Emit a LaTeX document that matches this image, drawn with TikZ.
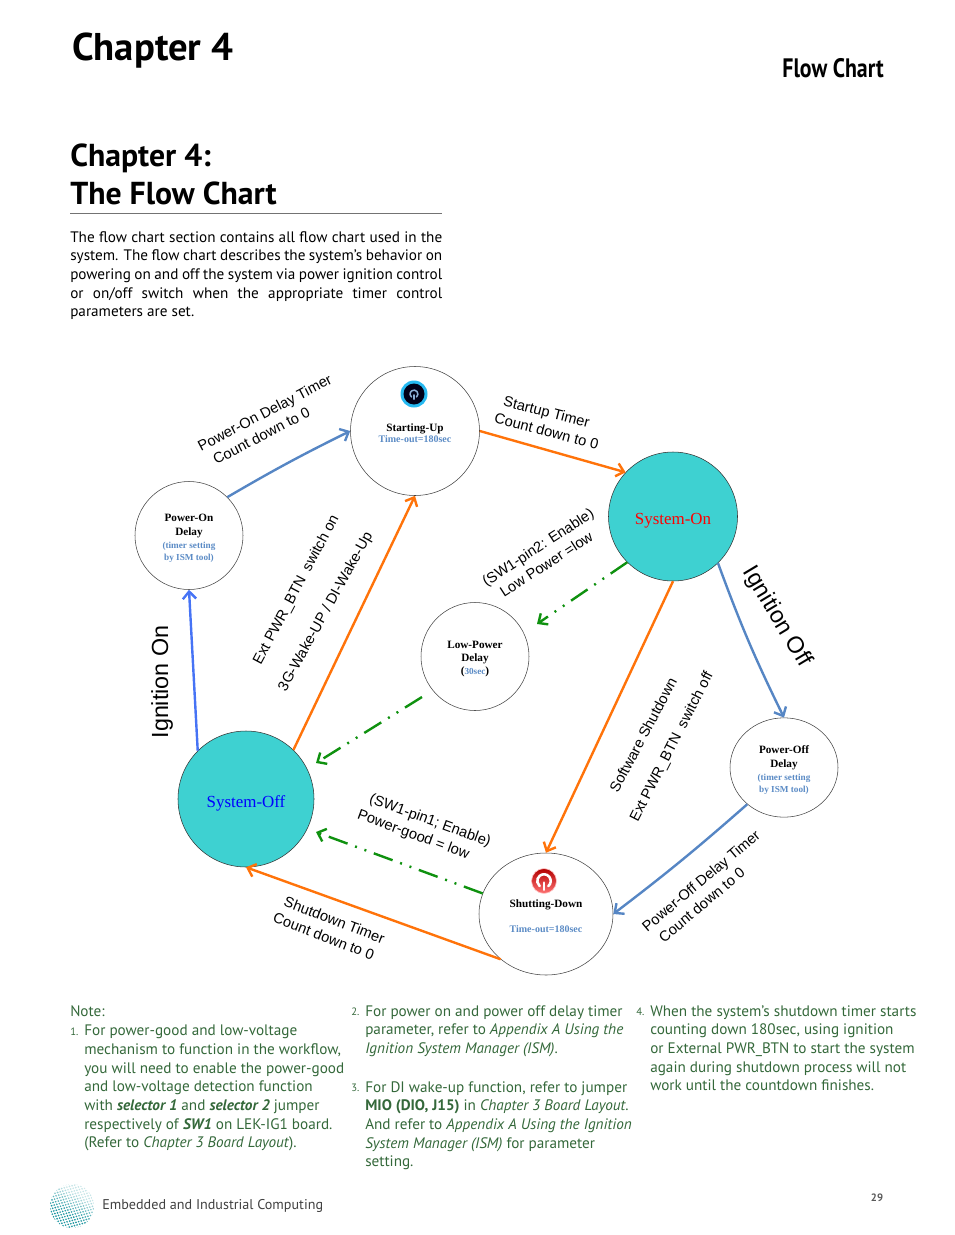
\documentclass[tikz,border=0pt]{standalone}
\usepackage{fontspec}
\setmainfont{PT Sans}
\newfontfamily\arialfont{Liberation Sans}
\newfontfamily\timesfont{Liberation Serif}
\usetikzlibrary{positioning,calc,shapes.geometric,arrows.meta}
\definecolor{stateteal}{RGB}{62,209,209}
\definecolor{subblue}{RGB}{91,139,197}
\definecolor{linkblue}{RGB}{86,134,196}
\definecolor{brightblue}{RGB}{70,115,245}
\definecolor{linkorange}{RGB}{255,115,10}
\definecolor{linkgreen}{RGB}{15,145,15}
\definecolor{notegreen}{RGB}{52,104,58}
\definecolor{globeteal}{RGB}{30,150,160}
\newcommand{\fsz}[2]{\fontsize{#1}{#2}\selectfont}
\newcommand{\sub}[1]{\textcolor{subblue}{\fsz{6.9}{8.6}\bfseries #1}}
\newcommand{\lift}{\rule{0pt}{9.5pt}}
\newcommand{\liftbig}{\rule{0pt}{15pt}}
\tikzset{
    flow/.style={
        x=0.75pt, y=-0.75pt,
        % Stati
        statebig/.style={draw=black!75, circle, inner sep=0pt, align=center,
                         minimum size=96.75pt, font=\timesfont\fsz{8.4}{9.2}\bfseries},
        statesmall/.style={draw=black!75, circle, inner sep=0pt, align=center,
                           minimum size=81pt, font=\timesfont\fsz{8.4}{10.8}\bfseries},
        stateoval/.style={draw=black!75, ellipse, inner sep=0pt, align=center,
                          font=\timesfont\fsz{8.4}{10.8}\bfseries},
        statefill/.style={draw=black!80, circle, fill=stateteal, inner sep=0pt,
                          font=\timesfont\fsz{12.7}{14}},
        % Frecce
        link/.style={-{Straight Barb[length=5.5pt,width=10pt]}, line width=1.8pt},
        linkdash/.style={link, linkgreen,
                         dash pattern=on 15pt off 6pt on 1.5pt off 6pt on 1.5pt off 6pt},
        % Testi
        tag/.style={font=\arialfont\fsz{11}{14.2}, align=left, inner sep=0pt},
        tagbig/.style={font=\arialfont\fsz{17.5}{20}, inner sep=0pt},
        note/.style={anchor=north west, inner sep=0pt, align=left, text=notegreen,
                     font=\fsz{11.4}{14}},
        notenum/.style={anchor=north west, inner sep=0pt, text=notegreen, font=\fsz{8}{14}}
    }
}
\newcommand{\powersign}[3]{%
  \draw[#3, line width=#2*0.16, line cap=round]
    (#1) ++(-50:#2*0.42) arc[start angle=-50, end angle=230, radius=#2*0.42];
  \draw[#3, line width=#2*0.16, line cap=round]
    ($(#1)+(0,-#2*0.1)$) -- ($(#1)+(0,-#2*0.55)$);
}
\begin{document}
\begin{tikzpicture}[flow]
  \useasboundingbox (0,0) rectangle (954,1235);

  % Pagina
  \node[anchor=west, inner sep=0pt, font=\fsz{29}{32}\bfseries] (chapter) at (72,51) {Chapter 4};
  \node[anchor=east, inner sep=0pt, font=\fsz{20}{24}\bfseries] (section) at (884,68) {\scalebox{.82}[1]{Flow Chart}};
  \node[anchor=north west, inner sep=0pt, align=left, font=\fsz{23.8}{28}\bfseries] (title) at (70,144) {Chapter 4:\\The Flow Chart};
  \coordinate (ruleleft) at (70,213);
  \coordinate (ruleright) at (442,213);
  \draw[black!55, line width=.7pt] (ruleleft) -- (ruleright);
  \node[anchor=north west, inner sep=0pt, text width=279pt, align=justify, font=\fsz{11.4}{14}] (intro) at (70,231)
    {The flow chart section contains all flow chart used in the\linebreak
     system. The flow chart describes the system’s behavior on\linebreak
     powering on and off the system via power ignition control\linebreak
     or on/off switch when the appropriate timer control\linebreak
     parameters are set.};

  % Nodi
  \node[statebig] (up) at (415,431) {\lift Starting-Up\\[-1pt]\textcolor{subblue}{\fsz{7.5}{9}Time-out=180sec}};
  \node[statesmall] (ondelay) at (189,535.5) {\lift Power-On\\Delay\\[-1.5pt]\sub{(timer setting}\\[-1.5pt]\sub{by ISM tool)}};
  \node[statefill, minimum size=96.75pt, text=red] (syson) at (673,516.5) {\liftbig System-On};
  \node[statesmall, font=\timesfont\fsz{8.4}{10}\bfseries] (lowpower) at (475,656.5) {\lift Low-Power\\Delay\\(\sub{30sec})};
  \node[statefill, minimum size=102pt, text=blue] (sysoff) at (246,799) {\liftbig System-Off};
  \node[stateoval, minimum width=81pt, minimum height=74.5pt] (offdelay) at (784,767.5) {\lift Power-Off\\Delay\\[-1.5pt]\sub{(timer setting}\\[-1.5pt]\sub{by ISM tool)}};
  \node[stateoval, minimum width=100.5pt, minimum height=91.5pt] (down) at (546,914) {\lift Shutting-Down\\[8pt]\textcolor{subblue}{\fsz{7.5}{9}Time-out=180sec}};

  % Icone
  \fill[cyan!85!white] (414,394) circle[radius=13.5];
  \fill[black!90!blue] (414,394) circle[radius=10.5];
  \powersign{414,394}{7pt}{subblue!70!white}
  \shade[top color=red!70!black, bottom color=red!55!white, draw=red!20!white, line width=.5pt] (544,881) circle[radius=12.5];
  \powersign{544,881}{12pt}{white}

  % Frecce
  \coordinate (lowin) at (537,624);
  \coordinate (lowout) at (422,697);
  \coordinate (sysoffa) at (316,763);
  \coordinate (sysoffb) at (316,832);
  \draw[link, linkblue] (ondelay.45) to[bend left=2] (up.west);
  \draw[link, brightblue] (sysoff.135) -- (ondelay.south);
  \draw[link, linkorange] (sysoff.46) -- (up.south);
  \draw[link, linkorange] (up.east) -- (syson.137);
  \draw[link, linkblue] (syson.-46) to[bend right=3] (offdelay.north);
  \draw[link, linkorange] (syson.south) -- (down.north);
  \draw[link, linkblue] (offdelay.-135) to[bend left=2] (down.east);
  \draw[link, linkorange] (down.-135) -- (sysoff.south);
  \draw[linkdash] (syson.225) -- (lowin);
  \draw[linkdash] (lowout) -- (sysoffa);
  \draw[linkdash] (down.162) -- (sysoffb);

  % Etichette
  \node[tag, rotate=27.5] (lonedelay) at (269,421) {Power-On Delay Timer\\\hspace*{.5em}Count down to 0};
  \node[tag, rotate=-14.5] (lstartup) at (549,422) {\hspace*{.3em}Startup Timer\\Count down to 0};
  \node[tag, rotate=33] (lpintwo) at (543,555) {(SW1-pin2: Enable)\\\hspace*{.6em}Low Power =low};
  \node[tag, rotate=62] (lextup) at (296.5,590) {Ext PWR\_BTN\ \ switch on};
  \node[tag, rotate=61] (lwake) at (326,612) {3G-Wake-UP / DI-Wake-Up};
  \node[tag, rotate=62] (lsoft) at (643,735) {Software Shutdown};
  \node[tag, rotate=63] (lextoff) at (672,747) {Ext PWR\_BTN\ \ switch off};
  \node[tag, rotate=40] (loffdelay) at (707,888) {Power-Off Delay Timer\\\hspace*{.4em}Count down to 0};
  \node[tag, rotate=-20] (lpinone) at (424,829) {\hspace*{.4em}(SW1-pin1; Enable)\\Power-good = low};
  \node[tag, rotate=-21] (lshut) at (329,928) {\hspace*{.3em}Shutdown Timer\\Count down to 0};
  \node[tagbig, rotate=90] (lignon) at (162,682) {Ignition On};
  \node[tagbig, rotate=-59] (lignoff) at (777,617) {Ignition Off};

  % Note
  \node[note] (notehead) at (70,1005) {Note:};
  \node[notenum] (numa) at (70,1028) {1.};
  \node[note] (notea) at (84,1025) {For power-good and low-voltage\\mechanism to function in the workflow,\\you will need to enable the power-good\\and low-voltage detection function\\with \textbf{\textit{selector 1}} and \textbf{\textit{selector 2}} jumper\\respectively of \textbf{\textit{SW1}} on LEK-IG1 board.\\(Refer to \textit{Chapter 3 Board Layout}).};
  \node[notenum] (numb) at (351,1008) {2.};
  \node[note] (noteb) at (365,1005) {For power on and power off delay timer\\parameter, refer to \textit{Appendix A Using the}\\\textit{Ignition System Manager (ISM)}.};
  \node[notenum] (numc) at (351,1084) {3.};
  \node[note] (notec) at (365,1081) {For DI wake-up function, refer to jumper\\\textbf{MIO (DIO, J15)} in \textit{Chapter 3 Board Layout}.\\And refer to \textit{Appendix A Using the Ignition}\\\textit{System Manager (ISM)} for parameter\\setting.};
  \node[notenum] (numd) at (636,1008) {4.};
  \node[note] (noted) at (650,1005) {When the system’s shutdown timer starts\\counting down 180sec, using ignition\\or External PWR\_BTN to start the system\\again during shutdown process will not\\work until the countdown finishes.};

  % Piede
  \begin{scope}
    \clip (72,1206) circle[radius=22];
    \foreach \i in {-9,...,9}
      \foreach \j in {-9,...,9} {
        \pgfmathsetmacro{\dotop}{max(0.25,min(1,0.7-(\i-\j)*0.06))}
        \fill[globeteal, opacity=\dotop] ({72+\i*2.6+\j*1.1},{1206+\j*2.6-\i*0.7}) circle[radius=0.95];
      }
  \end{scope}
  \node[anchor=west, inner sep=0pt, font=\fsz{10.6}{13}, text=black!75] (footer) at (102,1206) {Embedded and Industrial Computing};
  \node[inner sep=0pt, font=\fsz{8}{10}\bfseries, text=black!65] (pagenum) at (877,1198) {29};
\end{tikzpicture}
\end{document}
